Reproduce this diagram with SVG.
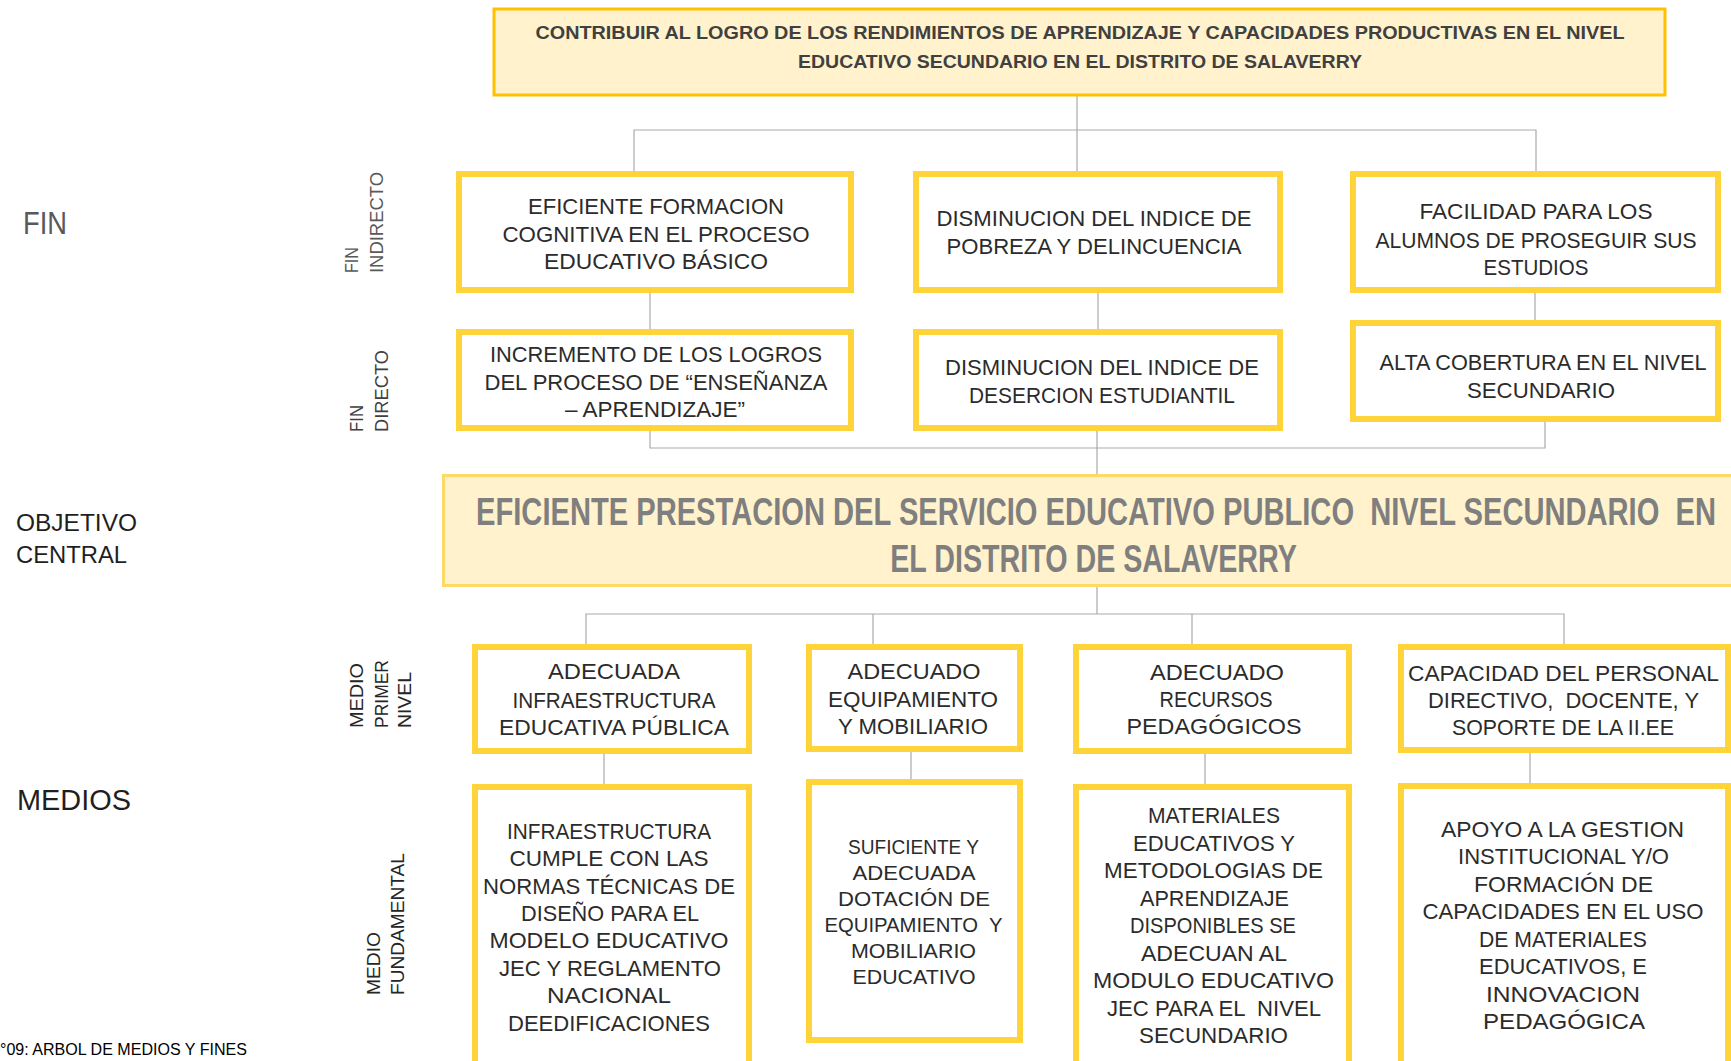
<svg xmlns="http://www.w3.org/2000/svg" width="1731" height="1061" viewBox="0 0 1731 1061">
<style>
  .bg{fill:#ffffff}
  .box{fill:#ffffff;stroke:#FFD43B;stroke-width:6}
  .hl{fill:#FFF2CC}
  .conn{fill:none;stroke:#ABABAB;stroke-width:1.2}
  .t{font-family:"Liberation Sans",Arial,sans-serif;font-size:22px;fill:#2b2b2b;text-anchor:middle}
  .t2{font-family:"Liberation Sans",Arial,sans-serif;font-size:21px;fill:#2b2b2b;text-anchor:middle}
  .hb{font-family:"Liberation Sans",Arial,sans-serif;font-weight:bold;text-anchor:middle}
  .lab{font-family:"Liberation Sans",Arial,sans-serif;fill:#1f1f1f}
  .rot{font-family:"Liberation Sans",Arial,sans-serif;font-size:19px;fill:#404040}
</style>
<rect class="bg" x="0" y="0" width="1731" height="1061"/>

<g id="connectors">
  <path class="conn" d="M1077 95 V171 M634 171 V130 H1536 V171 M650 290 V332 M1098 290 V332 M1535 290 V323 M650 428 V448 H1545 V420 M1097 428 V475 M1097 587 V614 M586 647 V614 H1564 V647 M873 614 V647 M1192 614 V647 M604 754 V787 M911 752 V782 M1205 754 V787 M1530 753 V786"/>
</g>

<g id="side-labels">
  <text class="lab" x="23" y="234" font-size="31" style="fill:#595959" textLength="44" lengthAdjust="spacingAndGlyphs">FIN</text>
  <text class="lab" x="16" y="531" font-size="24" textLength="121" lengthAdjust="spacingAndGlyphs">OBJETIVO</text>
  <text class="lab" x="16" y="563" font-size="24" textLength="111" lengthAdjust="spacingAndGlyphs">CENTRAL</text>
  <text class="lab" x="17" y="810" font-size="29" textLength="114" lengthAdjust="spacingAndGlyphs">MEDIOS</text>
  <text class="rot" transform="translate(358 273) rotate(-90)" textLength="26" lengthAdjust="spacingAndGlyphs" style="fill:#595959">FIN</text>
  <text class="rot" transform="translate(383 273) rotate(-90)" textLength="101" lengthAdjust="spacingAndGlyphs" style="fill:#595959">INDIRECTO</text>
  <text class="rot" transform="translate(363 432) rotate(-90)" textLength="27" lengthAdjust="spacingAndGlyphs">FIN</text>
  <text class="rot" transform="translate(388 432) rotate(-90)" textLength="82" lengthAdjust="spacingAndGlyphs">DIRECTO</text>
  <text class="rot" transform="translate(363 728) rotate(-90)" textLength="65" lengthAdjust="spacingAndGlyphs" style="fill:#262626">MEDIO</text>
  <text class="rot" transform="translate(388 728) rotate(-90)" textLength="68" lengthAdjust="spacingAndGlyphs" style="fill:#262626">PRIMER</text>
  <text class="rot" transform="translate(411 728) rotate(-90)" textLength="56" lengthAdjust="spacingAndGlyphs" style="fill:#262626">NIVEL</text>
  <text class="rot" transform="translate(380 995) rotate(-90)" textLength="63" lengthAdjust="spacingAndGlyphs" style="fill:#262626">MEDIO</text>
  <text class="rot" transform="translate(404 995) rotate(-90)" textLength="142" lengthAdjust="spacingAndGlyphs" style="fill:#262626">FUNDAMENTAL</text>
  <text x="0" y="1055" font-family="Liberation Sans, Arial, sans-serif" font-size="16" fill="#000000" textLength="247" lengthAdjust="spacingAndGlyphs">°09: ARBOL DE MEDIOS Y FINES</text>
</g>

<g id="node-fin-ultimo">
  <rect class="hl" x="494" y="9" width="1171" height="86" stroke="#FFC000" stroke-width="3"/>
  <text class="hb" x="1080" y="39" font-size="18" fill="#404040" textLength="1089" lengthAdjust="spacingAndGlyphs">CONTRIBUIR AL LOGRO DE LOS RENDIMIENTOS DE APRENDIZAJE Y CAPACIDADES PRODUCTIVAS EN EL NIVEL</text>
  <text class="hb" x="1080" y="68" font-size="18" fill="#404040" textLength="564" lengthAdjust="spacingAndGlyphs">EDUCATIVO SECUNDARIO EN EL DISTRITO DE SALAVERRY</text>
</g>

<g id="node-fi-1">
  <rect class="box" x="459" y="174" width="392" height="116"/>
  <text class="t" x="656" y="214" textLength="256" lengthAdjust="spacingAndGlyphs">EFICIENTE FORMACION</text>
  <text class="t" x="656" y="242" textLength="307" lengthAdjust="spacingAndGlyphs">COGNITIVA EN EL PROCESO</text>
  <text class="t" x="656" y="269" textLength="224" lengthAdjust="spacingAndGlyphs">EDUCATIVO BÁSICO</text>
</g>
<g id="node-fi-2">
  <rect class="box" x="916" y="174" width="364" height="116"/>
  <text class="t" x="1094" y="226" textLength="315" lengthAdjust="spacingAndGlyphs">DISMINUCION DEL INDICE DE</text>
  <text class="t" x="1094" y="254" textLength="295" lengthAdjust="spacingAndGlyphs">POBREZA Y DELINCUENCIA</text>
</g>
<g id="node-fi-3">
  <rect class="box" x="1353" y="174" width="365" height="116"/>
  <text class="t" x="1536" y="219" textLength="233" lengthAdjust="spacingAndGlyphs">FACILIDAD PARA LOS</text>
  <text class="t" x="1536" y="248" textLength="321" lengthAdjust="spacingAndGlyphs">ALUMNOS DE PROSEGUIR SUS</text>
  <text class="t" x="1536" y="275" textLength="105" lengthAdjust="spacingAndGlyphs">ESTUDIOS</text>
</g>

<g id="node-fd-1">
  <rect class="box" x="459" y="332" width="392" height="96"/>
  <text class="t" x="656" y="362" textLength="332" lengthAdjust="spacingAndGlyphs">INCREMENTO DE LOS LOGROS</text>
  <text class="t" x="656" y="390" textLength="343" lengthAdjust="spacingAndGlyphs">DEL PROCESO DE “ENSEÑANZA</text>
  <text class="t" x="655" y="417" textLength="180" lengthAdjust="spacingAndGlyphs">– APRENDIZAJE”</text>
</g>
<g id="node-fd-2">
  <rect class="box" x="916" y="332" width="364" height="96"/>
  <text class="t" x="1102" y="375" textLength="314" lengthAdjust="spacingAndGlyphs">DISMINUCION DEL INDICE DE</text>
  <text class="t" x="1102" y="403" textLength="266" lengthAdjust="spacingAndGlyphs">DESERCION ESTUDIANTIL</text>
</g>
<g id="node-fd-3">
  <rect class="box" x="1353" y="323" width="365" height="96"/>
  <text class="t" x="1543" y="370" textLength="327" lengthAdjust="spacingAndGlyphs">ALTA COBERTURA EN EL NIVEL</text>
  <text class="t" x="1541" y="398" textLength="148" lengthAdjust="spacingAndGlyphs">SECUNDARIO</text>
</g>

<g id="node-objetivo">
  <rect class="hl" x="443.5" y="475.5" width="1300" height="110" stroke="#FFD966" stroke-width="3"/>
  <text class="hb" transform="translate(1096 525) scale(0.763 1)" x="0" y="0" font-size="38" fill="#7F7F7F" textLength="1625" lengthAdjust="spacingAndGlyphs" xml:space="preserve">EFICIENTE PRESTACION DEL SERVICIO EDUCATIVO PUBLICO  NIVEL SECUNDARIO  EN</text>
  <text class="hb" transform="translate(1093.5 572) scale(0.763 1)" x="0" y="0" font-size="38" fill="#7F7F7F" textLength="533" lengthAdjust="spacingAndGlyphs">EL DISTRITO DE SALAVERRY</text>
</g>

<g id="node-mp-1">
  <rect class="box" x="475" y="647" width="274" height="104"/>
  <text class="t" x="614" y="679" textLength="132" lengthAdjust="spacingAndGlyphs">ADECUADA</text>
  <text class="t" x="614" y="708" textLength="203" lengthAdjust="spacingAndGlyphs">INFRAESTRUCTURA</text>
  <text class="t" x="614" y="735" textLength="230" lengthAdjust="spacingAndGlyphs">EDUCATIVA PÚBLICA</text>
</g>
<g id="node-mp-2">
  <rect class="box" x="809" y="647" width="211" height="102"/>
  <text class="t" x="914" y="679" textLength="133" lengthAdjust="spacingAndGlyphs">ADECUADO</text>
  <text class="t" x="913" y="707" textLength="170" lengthAdjust="spacingAndGlyphs">EQUIPAMIENTO</text>
  <text class="t" x="913" y="734" textLength="150" lengthAdjust="spacingAndGlyphs">Y MOBILIARIO</text>
</g>
<g id="node-mp-3">
  <rect class="box" x="1076" y="647" width="273" height="104"/>
  <text class="t" x="1217" y="680" textLength="134" lengthAdjust="spacingAndGlyphs">ADECUADO</text>
  <text class="t" x="1216" y="707" textLength="113" lengthAdjust="spacingAndGlyphs">RECURSOS</text>
  <text class="t" x="1214" y="734" textLength="175" lengthAdjust="spacingAndGlyphs">PEDAGÓGICOS</text>
</g>
<g id="node-mp-4">
  <rect class="box" x="1401" y="647" width="327" height="103"/>
  <text class="t" x="1563.5" y="681" textLength="311" lengthAdjust="spacingAndGlyphs">CAPACIDAD DEL PERSONAL</text>
  <text class="t" x="1563.5" y="708" textLength="271" lengthAdjust="spacingAndGlyphs" xml:space="preserve">DIRECTIVO,  DOCENTE, Y</text>
  <text class="t" x="1563" y="735" textLength="222" lengthAdjust="spacingAndGlyphs">SOPORTE DE LA II.EE</text>
</g>

<g id="node-mf-1">
  <rect class="box" x="475" y="787" width="274" height="290"/>
  <text class="t" x="609" y="839" textLength="204" lengthAdjust="spacingAndGlyphs">INFRAESTRUCTURA</text>
  <text class="t" x="609" y="866" textLength="199" lengthAdjust="spacingAndGlyphs">CUMPLE CON LAS</text>
  <text class="t" x="609" y="894" textLength="252" lengthAdjust="spacingAndGlyphs">NORMAS TÉCNICAS DE</text>
  <text class="t" x="610" y="921" textLength="178" lengthAdjust="spacingAndGlyphs">DISEÑO PARA EL</text>
  <text class="t" x="609" y="948" textLength="239" lengthAdjust="spacingAndGlyphs">MODELO EDUCATIVO</text>
  <text class="t" x="610" y="976" textLength="222" lengthAdjust="spacingAndGlyphs">JEC Y REGLAMENTO</text>
  <text class="t" x="609" y="1003" textLength="124" lengthAdjust="spacingAndGlyphs">NACIONAL</text>
  <text class="t" x="609" y="1031" textLength="202" lengthAdjust="spacingAndGlyphs">DEEDIFICACIONES</text>
</g>
<g id="node-mf-2">
  <rect class="box" x="809" y="782" width="211" height="258"/>
  <text class="t2" x="913.5" y="854" textLength="131" lengthAdjust="spacingAndGlyphs">SUFICIENTE Y</text>
  <text class="t2" x="914" y="880" textLength="123" lengthAdjust="spacingAndGlyphs">ADECUADA</text>
  <text class="t2" x="914" y="906" textLength="152" lengthAdjust="spacingAndGlyphs">DOTACIÓN DE</text>
  <text class="t2" x="913.5" y="932" textLength="178" lengthAdjust="spacingAndGlyphs" xml:space="preserve">EQUIPAMIENTO  Y</text>
  <text class="t2" x="913.5" y="958" textLength="125" lengthAdjust="spacingAndGlyphs">MOBILIARIO</text>
  <text class="t2" x="914" y="984" textLength="123" lengthAdjust="spacingAndGlyphs">EDUCATIVO</text>
</g>
<g id="node-mf-3">
  <rect class="box" x="1076" y="787" width="273" height="290"/>
  <text class="t" x="1214" y="823" textLength="132" lengthAdjust="spacingAndGlyphs">MATERIALES</text>
  <text class="t" x="1214" y="850.5" textLength="162" lengthAdjust="spacingAndGlyphs">EDUCATIVOS Y</text>
  <text class="t" x="1213.5" y="878" textLength="219" lengthAdjust="spacingAndGlyphs">METODOLOGIAS DE</text>
  <text class="t" x="1214.5" y="905.5" textLength="149" lengthAdjust="spacingAndGlyphs">APRENDIZAJE</text>
  <text class="t" x="1213" y="933" textLength="166" lengthAdjust="spacingAndGlyphs">DISPONIBLES SE</text>
  <text class="t" x="1214" y="960.5" textLength="146" lengthAdjust="spacingAndGlyphs">ADECUAN AL</text>
  <text class="t" x="1213.5" y="988" textLength="241" lengthAdjust="spacingAndGlyphs">MODULO EDUCATIVO</text>
  <text class="t" x="1214" y="1015.5" textLength="214" lengthAdjust="spacingAndGlyphs" xml:space="preserve">JEC PARA EL  NIVEL</text>
  <text class="t" x="1213.5" y="1043" textLength="149" lengthAdjust="spacingAndGlyphs">SECUNDARIO</text>
</g>
<g id="node-mf-4">
  <rect class="box" x="1401" y="786" width="327" height="290"/>
  <text class="t" x="1562.5" y="837" textLength="243" lengthAdjust="spacingAndGlyphs">APOYO A LA GESTION</text>
  <text class="t" x="1563.5" y="864.4" textLength="211" lengthAdjust="spacingAndGlyphs">INSTITUCIONAL Y/O</text>
  <text class="t" x="1563.5" y="891.9" textLength="179" lengthAdjust="spacingAndGlyphs">FORMACIÓN DE</text>
  <text class="t" x="1563" y="919.3" textLength="281" lengthAdjust="spacingAndGlyphs">CAPACIDADES EN EL USO</text>
  <text class="t" x="1563" y="946.7" textLength="168" lengthAdjust="spacingAndGlyphs">DE MATERIALES</text>
  <text class="t" x="1563" y="974.1" textLength="168" lengthAdjust="spacingAndGlyphs">EDUCATIVOS, E</text>
  <text class="t" x="1563" y="1001.6" textLength="154" lengthAdjust="spacingAndGlyphs">INNOVACION</text>
  <text class="t" x="1564" y="1029" textLength="162" lengthAdjust="spacingAndGlyphs">PEDAGÓGICA</text>
</g>
</svg>
